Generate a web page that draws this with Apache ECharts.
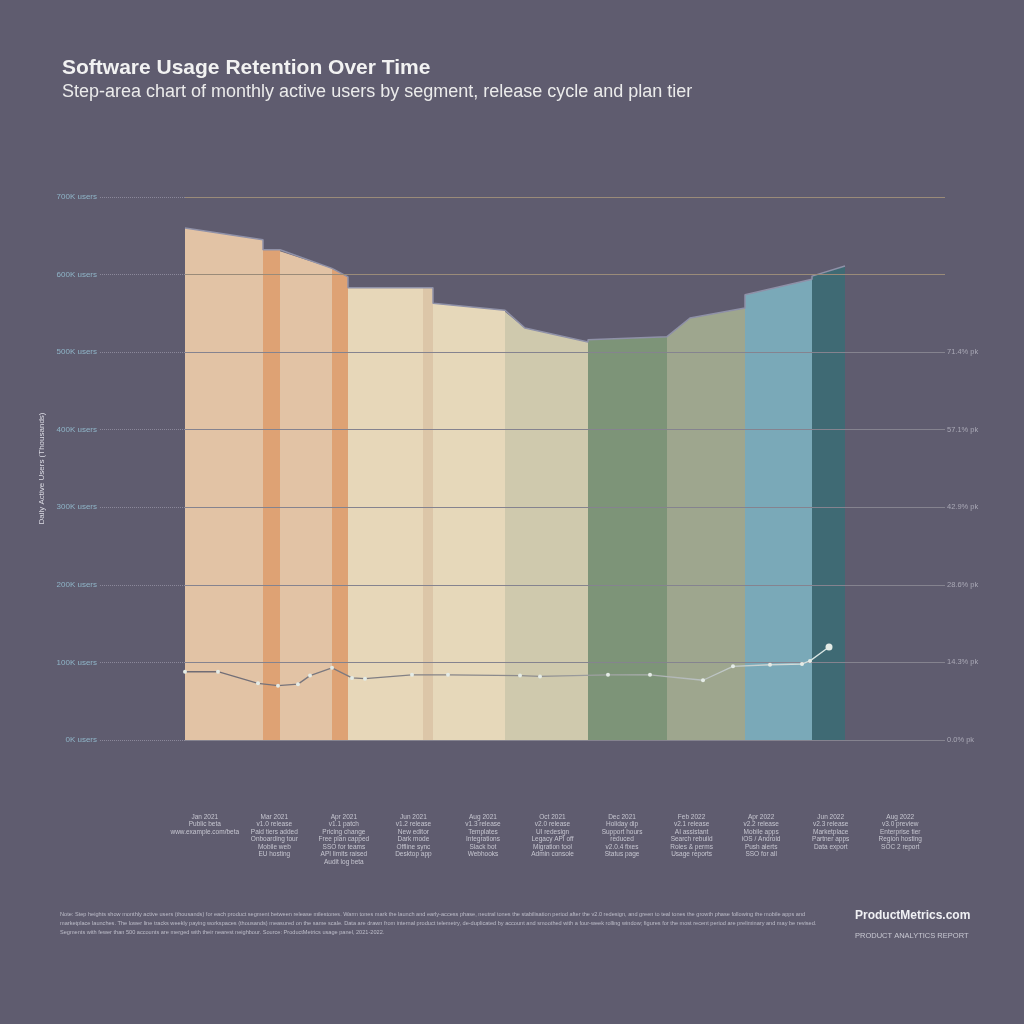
<!DOCTYPE html>
<html>
<head>
<meta charset="utf-8">
<script src="https://cdn.jsdelivr.net/npm/echarts@6/dist/echarts.min.js"></script>
<style>
  html, body { margin: 0; padding: 0; background: #5f5c6f; }
  #chart { width: 1024px; height: 1024px; }
</style>
</head>
<body>
<div id="chart"></div>
<script>
// ---------- data ----------
// time axis in weeks since launch; values in thousands of active users
const segStart = [0, 7.8, 9.5, 14.7, 16.3, 23.8, 24.8, 32.0, 34.0, 40.3, 48.2, 50.5, 56.0, 62.7];
const segEnd   = [7.8, 9.5, 14.7, 16.3, 23.8, 24.8, 32.0, 34.0, 40.3, 48.2, 50.5, 56.0, 62.7, 66.0];
const topStart = [660, 632, 630, 608, 583, 583, 563, 552, 531, 516, 520, 544, 574, 598];
const topEnd   = [645, 632, 608, 597, 583, 583, 554, 531, 513, 520, 544, 557, 594, 611];

const trendX = [0, 3.3, 7.3, 9.3, 11.3, 12.5, 14.7, 16.7, 18.0, 22.7, 26.3, 33.5, 35.5, 42.3, 46.5, 51.8, 54.8, 58.5, 61.7, 62.5, 64.4];
const trendY = [88, 88, 73, 70, 72, 83, 93, 80, 79, 84, 84, 83, 82, 84, 84, 77, 95, 97, 98, 102, 120];

const gridValues = [0, 100, 200, 300, 400, 500, 600, 700];

const releaseLabels = [
  'Jan 2021\nPublic beta\nwww.example.com/beta',
  'Mar 2021\nv1.0 release\nPaid tiers added\nOnboarding tour\nMobile web\nEU hosting',
  'Apr 2021\nv1.1 patch\nPricing change\nFree plan capped\nSSO for teams\nAPI limits raised\nAudit log beta',
  'Jun 2021\nv1.2 release\nNew editor\nDark mode\nOffline sync\nDesktop app',
  'Aug 2021\nv1.3 release\nTemplates\nIntegrations\nSlack bot\nWebhooks',
  'Oct 2021\nv2.0 release\nUI redesign\nLegacy API off\nMigration tool\nAdmin console',
  'Dec 2021\nHoliday dip\nSupport hours\nreduced\nv2.0.4 fixes\nStatus page',
  'Feb 2022\nv2.1 release\nAI assistant\nSearch rebuild\nRoles & perms\nUsage reports',
  'Apr 2022\nv2.2 release\nMobile apps\niOS / Android\nPush alerts\nSSO for all',
  'Jun 2022\nv2.3 release\nMarketplace\nPartner apps\nData export',
  'Aug 2022\nv3.0 preview\nEnterprise tier\nRegion hosting\nSOC 2 report'
];

// ---------- style ----------
const segColors = ['#e2c3a5', '#dea274', '#e2c3a5', '#dea274', '#e7d7b9', '#dcc6a8', '#e6d8ba',
                   '#cfc9ad', '#cfc9ad', '#7d9478', '#9ea68e', '#9ea68e', '#7aa9b8', '#3f6a74'];

const segData = segStart.map((s, i) => [s, segEnd[i], topStart[i], topEnd[i]]);
const outline = [];
segStart.forEach((s, i) => { outline.push([s, topStart[i]]); outline.push([segEnd[i], topEnd[i]]); });
const trendData = trendX.map((x, i) => [x, trendY[i]]);

const footerNote = 'Note: Step heights show monthly active users (thousands) for each product segment between release milestones. Warm tones mark the launch and early-access phase, neutral tones the stabilisation period after the v2.0 redesign, and green to teal tones the growth phase following the mobile apps and marketplace launches. The lower line tracks weekly paying workspaces (thousands) measured on the same scale. Data are drawn from internal product telemetry, de-duplicated by account and smoothed with a four-week rolling window; figures for the most recent period are preliminary and may be revised. Segments with fewer than 500 accounts are merged with their nearest neighbour. Source: ProductMetrics usage panel, 2021-2022.';

const gridColor = v => v >= 600 ? '#9a8b79' : '#85838f';

const chart = echarts.init(document.getElementById('chart'));
chart.setOption({
  backgroundColor: '#5f5c6f',
  animation: false,
  title: {
    text: 'Software Usage Retention Over Time',
    subtext: 'Step-area chart of monthly active users by segment, release cycle and plan tier',
    left: 57, top: 53, itemGap: 4,
    textStyle: { color: '#f2f2f2', fontSize: 21, fontWeight: 'bold', fontFamily: 'Liberation Sans' },
    subtextStyle: { color: '#ebebeb', fontSize: 18, fontFamily: 'Liberation Sans' }
  },
  grid: [
    { left: 185, right: 79, top: 197, bottom: 284 },
    { left: 170, right: 89, top: 808, height: 1 }
  ],
  xAxis: [
    { type: 'value', gridIndex: 0, min: 0, max: 76, show: false },
    { type: 'category', gridIndex: 1, data: releaseLabels,
      axisLine: { show: false }, axisTick: { show: false }, splitLine: { show: false },
      position: 'bottom',
      axisLabel: { interval: 0, color: '#c6c6d0', fontSize: 6.5, lineHeight: 7.5, margin: 4,
                   fontFamily: 'Liberation Sans', verticalAlign: 'top' } }
  ],
  yAxis: [
    { type: 'value', gridIndex: 0, min: 0, max: 700, interval: 100, z: 5,
      name: 'Daily Active Users (Thousands)', nameLocation: 'middle', nameGap: 133,
      nameTextStyle: { color: '#dcdce4', fontSize: 8, fontFamily: 'Liberation Sans' },
      axisLine: { show: false },
      axisTick: { show: true, length: 85, lineStyle: { color: '#8b889a', type: 'dotted' } },
      axisLabel: { color: '#8fb5c8', fontSize: 8, margin: 88, formatter: v => v + 'K users',
                   fontFamily: 'Liberation Sans' },
      splitLine: { show: false } },
    { type: 'value', gridIndex: 0, min: 0, max: 700, interval: 100, position: 'right',
      axisLine: { show: false }, axisTick: { show: false }, splitLine: { show: false },
      axisLabel: { color: '#a9a8b5', fontSize: 7.5, margin: 2, fontFamily: 'Liberation Sans',
                   formatter: v => v >= 600 ? '' : (v / 7).toFixed(1) + '% pk' } },
    { type: 'value', gridIndex: 1, show: false }
  ],
  series: [
    { type: 'custom', xAxisIndex: 0, yAxisIndex: 0, z: 2,
      data: segData,
      renderItem: function (params, api) {
        const x0 = api.value(0), x1 = api.value(1), v0 = api.value(2), v1 = api.value(3);
        const b0 = api.coord([x0, 0]), b1 = api.coord([x1, 0]);
        const t0 = api.coord([x0, v0]), t1 = api.coord([x1, v1]);
        return { type: 'polygon', shape: { points: [b0, t0, t1, b1] },
                 style: { fill: segColors[params.dataIndex] } };
      },
      markLine: {
        silent: true, symbol: 'none', label: { show: false },
        data: gridValues.map(v => ({ yAxis: v,
          lineStyle: { color: gridColor(v), width: 1, type: 'solid' } }))
      } },
    { type: 'line', xAxisIndex: 0, yAxisIndex: 0, z: 3, data: outline, showSymbol: false,
      lineStyle: { color: '#8f91a8', width: 1.5 } },
    { type: 'line', xAxisIndex: 0, yAxisIndex: 0, z: 6, data: trendData,
      symbol: 'circle', symbolSize: (v, p) => p.dataIndex === trendData.length - 1 ? 7 : 4,
      itemStyle: { color: '#e4ebe6' },
      lineStyle: { width: 1.3, color: new echarts.graphic.LinearGradient(0, 0, 1, 0, [
        { offset: 0, color: '#6e6a73' }, { offset: 0.55, color: '#8f8e90' }, { offset: 1, color: '#dbe8e6' }]) } },
    { type: 'line', xAxisIndex: 1, yAxisIndex: 2, data: [], silent: true }
  ],
  graphic: [
    { type: 'text', left: 60, top: 910,
      style: { text: footerNote, width: 775, overflow: 'break', fill: '#bdbdc9',
               font: '5.6px "Liberation Sans"', lineHeight: 9 } },
    { type: 'text', left: 855, top: 910,
      style: { text: 'ProductMetrics.com', fill: '#f0f0f4',
               font: 'bold 12px "Liberation Sans Narrow", "Liberation Sans"' } },
    { type: 'text', left: 855, top: 932,
      style: { text: 'PRODUCT ANALYTICS REPORT', fill: '#c8c8d2',
               font: '7.5px "Liberation Sans Narrow", "Liberation Sans"' } }
  ]
});
</script>
</body>
</html>
